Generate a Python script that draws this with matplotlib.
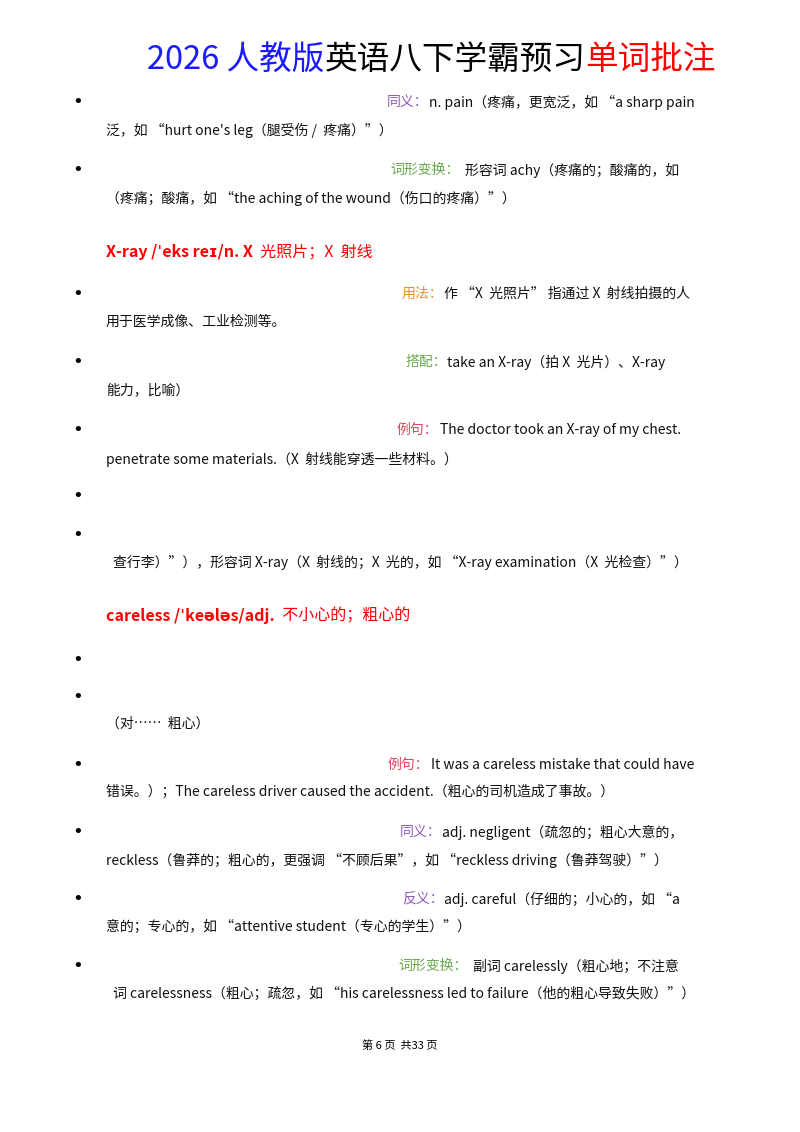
import matplotlib
matplotlib.use("Agg")
import matplotlib.pyplot as plt

plt.rcParams['font.family'] = ['Noto Sans CJK SC', 'DejaVu Sans']

title_parts = ["2026 人教版", "英语八下学霸预习", "单词批注"]
title_colors = ["#1a1aff", "#000000", "#ff0000"]

bullet_ys = [102, 170, 294, 362, 430, 496, 535, 660, 697, 765, 832, 899, 966]

# (y, label x, label, label colour, text x, text)
right_lines = [
    (102, 387, "同义：", "#8e5bbf", 429, "n. pain（疼痛，更宽泛，如 “a sharp pain"),
    (170, 390, "词形变换：", "#6aa84f", 465, "形容词 achy（疼痛的；酸痛的，如"),
    (294, 402, "用法：", "#e69138", 444, "作 “X  光照片” 指通过 X  射线拍摄的人"),
    (362, 405, "搭配：", "#6aa84f", 447, "take an X-ray（拍 X  光片）、X-ray"),
    (430, 397, "例句：", "#e0455a", 440, "The doctor took an X-ray of my chest."),
    (765, 388, "例句：", "#e0455a", 431, "It was a careless mistake that could have"),
    (832, 400, "同义：", "#8e5bbf", 442, "adj. negligent（疏忽的；粗心大意的，"),
    (899, 402, "反义：", "#8e5bbf", 444, "adj. careful（仔细的；小心的，如 “a"),
    (966, 398, "词形变换：", "#6aa84f", 473, "副词 carelessly（粗心地；不注意"),
]

left_lines = [
    (130, 106, "泛，如 “hurt one's leg（腿受伤 /  疼痛）”）"),
    (198, 106, "（疼痛；酸痛，如 “the aching of the wound（伤口的疼痛）”）"),
    (322, 106, "用于医学成像、工业检测等。"),
    (390, 106, "能力，比喻）"),
    (459, 106, "penetrate some materials.（X  射线能穿透一些材料。）"),
    (562, 113, "查行李）”），形容词 X-ray（X  射线的；X  光的，如 “X-ray examination（X  光检查）”）"),
    (724, 106, "（对……  粗心）"),
    (792, 106, "错误。）；The careless driver caused the accident.（粗心的司机造成了事故。）"),
    (860, 106, "reckless（鲁莽的；粗心的，更强调 “不顾后果”，如 “reckless driving（鲁莽驾驶）”）"),
    (927, 106, "意的；专心的，如 “attentive student（专心的学生）”）"),
    (994, 113, "词 carelessness（粗心；疏忽，如 “his carelessness led to failure（他的粗心导致失败）”）"),
]

headings = [
    (252, "X-ray /ˈeks reɪ/n. X", "  光照片；X  射线"),
    (616, "careless /ˈkeələs/adj.", "  不小心的；粗心的"),
]

footer = "第 6 页  共33 页"

W, H = 800, 1132
fig = plt.figure(figsize=(8, 11.32), dpi=100)
fig.patch.set_facecolor("white")

def fx(x): return x / W
def fy(y): return 1 - y / H

fig.canvas.draw()
r = fig.canvas.get_renderer()

# title
x = 147
for part, col in zip(title_parts, title_colors):
    t = fig.text(fx(x), fy(60), part, fontsize=23.5, color=col, va="center", ha="left")
    bb = t.get_window_extent(renderer=r)
    x += bb.width

for y in bullet_ys:
    fig.text(fx(78), fy(y), "•", fontsize=13, color="black", va="center", ha="center",
             family="DejaVu Sans")

for y, lx, lab, col, tx, txt in right_lines:
    fig.text(fx(lx), fy(y), lab, fontsize=10, color=col, va="center", ha="left")
    fig.text(fx(tx), fy(y), txt, fontsize=10, color="#111111", va="center", ha="left")

for y, lx, txt in left_lines:
    fig.text(fx(lx), fy(y), txt, fontsize=10, color="#111111", va="center", ha="left")

for y, bold, rest in headings:
    t = fig.text(fx(106), fy(y), bold, fontsize=11.5, color="#ff0000", fontweight="bold",
                 va="center", ha="left")
    bb = t.get_window_extent(renderer=r)
    fig.text(fx(106 + bb.width), fy(y), rest, fontsize=11.5, color="#ff0000",
             va="center", ha="left")

fig.text(0.5, fy(1046), footer, fontsize=8, color="black", va="center", ha="center")

fig.savefig("out.png", dpi=100, facecolor="white")
